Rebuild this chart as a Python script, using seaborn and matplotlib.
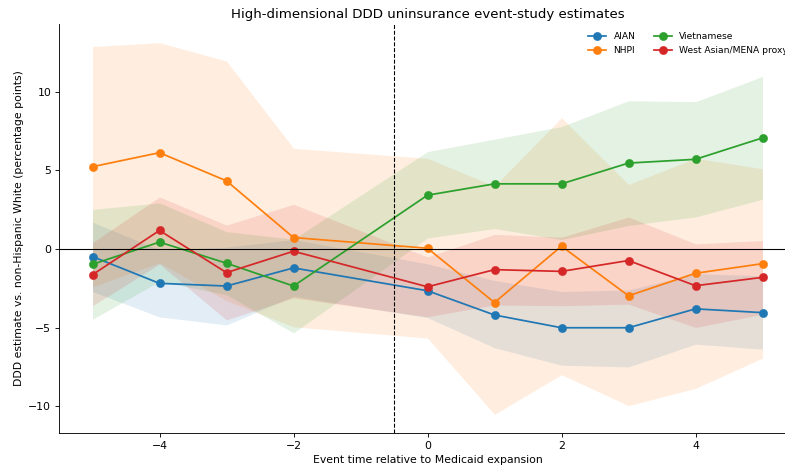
import numpy as np
import pandas as pd
import matplotlib
matplotlib.use("Agg")
import matplotlib.pyplot as plt
import seaborn as sns

event_time = [-5, -4, -3, -2, 0, 1, 2, 3, 4, 5]
groups = ["AIAN", "NHPI", "Vietnamese", "West Asian/MENA proxy"]
colors = ["#1f77b4", "#ff7f0e", "#2ca02c", "#d62728"]

aian_est = [-0.48, -2.18, -2.35, -1.20, -2.65, -4.19, -5.00, -5.00, -3.80, -4.04]
aian_lo = [-2.70, -4.31, -4.82, -3.00, -4.36, -6.27, -7.38, -7.49, -6.04, -6.36]
aian_hi = [1.71, -0.05, 0.12, 0.60, -0.94, -2.00, -2.70, -2.60, -1.57, -1.70]

nhpi_est = [5.23, 6.12, 4.33, 0.73, 0.05, -3.40, 0.18, -2.97, -1.54, -0.93]
nhpi_lo = [-2.40, -0.87, -3.28, -4.94, -5.66, -10.50, -7.98, -9.95, -8.85, -6.93]
nhpi_hi = [12.86, 13.11, 11.94, 6.40, 5.76, 4.00, 8.34, 4.10, 5.77, 5.10]

viet_est = [-0.97, 0.44, -0.90, -2.35, 3.42, 4.14, 4.14, 5.46, 5.70, 7.06]
viet_lo = [-4.46, -2.05, -2.90, -5.33, 0.70, 1.30, 0.60, 1.50, 2.04, 3.16]
viet_hi = [2.52, 2.93, 1.10, 0.63, 6.19, 6.98, 7.78, 9.42, 9.36, 10.96]

wam_est = [-1.63, 1.18, -1.50, -0.14, -2.40, -1.31, -1.42, -0.73, -2.33, -1.80]
wam_lo = [-3.60, -0.95, -4.50, -3.10, -4.30, -3.55, -3.60, -3.50, -4.98, -4.14]
wam_hi = [0.40, 3.31, 1.52, 2.84, -0.50, 0.93, 0.75, 2.03, 0.33, 0.54]

est = [aian_est, nhpi_est, viet_est, wam_est]
lo = [aian_lo, nhpi_lo, viet_lo, wam_lo]
hi = [aian_hi, nhpi_hi, viet_hi, wam_hi]

rows = []
for g, e, l, h in zip(groups, est, lo, hi):
    for t, ev, lv, hv in zip(event_time, e, l, h):
        rows.append({"event_time": t, "group": g, "estimate": ev, "lo": lv, "hi": hv})
df = pd.DataFrame(rows)

fig = plt.figure(figsize=(10, 6), dpi=78.5)
ax = fig.add_axes([59 / 785, 38 / 470, 737 / 785, 408 / 470])

for g, c in zip(groups, colors):
    sub = df[df["group"] == g]
    ax.fill_between(sub["event_time"], sub["lo"], sub["hi"], color=c, alpha=0.13, linewidth=0)

for g, c in zip(groups, colors):
    sub = df[df["group"] == g]
    sns.lineplot(data=sub, x="event_time", y="estimate", color=c, marker="o",
                 markersize=7.5, markeredgecolor=c, markeredgewidth=0.5,
                 linewidth=1.6, label=g, ax=ax)

ax.axhline(0, color="black", linewidth=1)
ax.axvline(-0.5, color="black", linestyle="--", linewidth=1)

ax.set_title("High-dimensional DDD uninsurance event-study estimates", fontsize=12.3)
ax.set_xlabel("Event time relative to Medicaid expansion", fontsize=10)
ax.set_ylabel("DDD estimate vs. non-Hispanic White (percentage points)", fontsize=10)
ax.set_xticks([-4, -2, 0, 2, 4])
ax.set_yticks([-10, -5, 0, 5, 10])
ax.set_xticklabels(["\u22124", "\u22122", "0", "2", "4"])
ax.set_yticklabels(["\u221210", "\u22125", "0", "5", "10"])
sns.despine(ax=ax)
ax.legend(loc="upper right", ncol=2, frameon=False, fontsize=8.33)

fig.savefig("out.png", dpi=78.5)
